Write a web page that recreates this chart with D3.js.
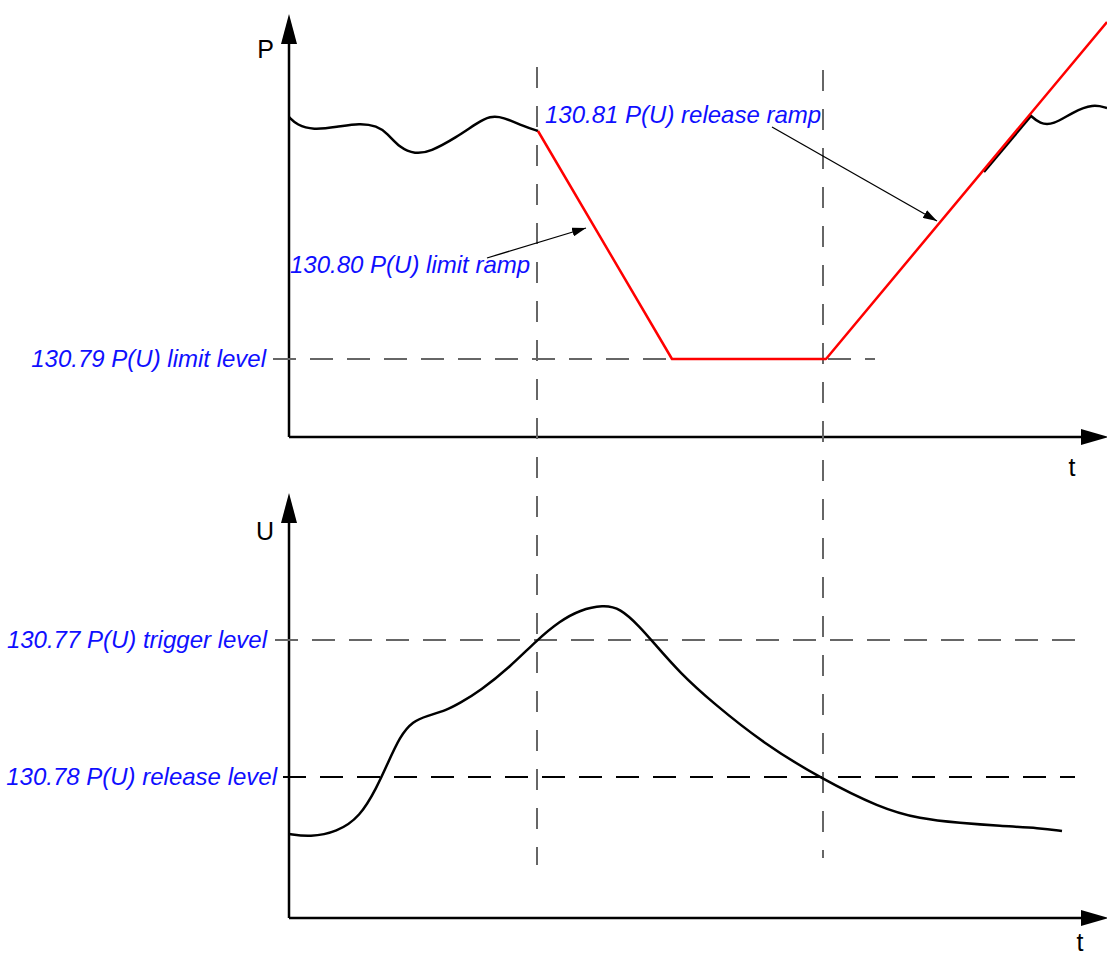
<!DOCTYPE html>
<html>
<head>
<meta charset="utf-8">
<script src="https://cdn.jsdelivr.net/npm/d3@7"></script>
<style>
  body { margin: 0; background: #fff; }
  svg { display: block; }
  .lbl { font-family: "Liberation Sans", Arial, sans-serif; font-style: italic; font-size: 24px; fill: #0f0fff; }
  .ax { font-family: "Liberation Sans", Arial, sans-serif; font-size: 25px; fill: #000; }
</style>
</head>
<body>
<svg id="chart" width="1107" height="955"></svg>
<script>
// P curve before limit (t, P)
const pBefore = [[0,320],[8,312],[24,307],[48,310],[71,314],[88,311],[98,304],[111,289],[126,283],[141,285],[168,300],[188,314],[201,321],[214,320],[234,311],[249,306]];
// P limited by ramp (red)
const pRamp = [[249,306],[383,78],[537,78],[818,415]];
// P following the release ramp, then free again
const pAfter = [[694,266],[741,322],[751,313],[764,312],[784,325],[804,333],[818,329]];
// U curve (t, U)
const uCurve = [[0,84],[21,81],[48,86],[71,101],[88,131],[98,153],[111,182],[124,197],[138,202],[158,208],[171,215],[191,227],[221,251],[248,278],[271,297],[291,308],[314,313],[331,310],[351,291],[364,276],[391,245],[424,215],[474,175],[531,140],[591,110],[631,99],[671,95],[711,92],[751,90],[773,87]];

// levels and times
const limitLevel = 78;
const triggerLevel = 278;
const releaseLevel = 141;
const tTrigger = 248;
const tRelease = 534;

const labels = {
  limitLevel: '130.79 P(U) limit level',
  trigger: '130.77 P(U) trigger level',
  release: '130.78 P(U) release level',
  limitRamp: '130.80 P(U) limit ramp',
  releaseRamp: '130.81 P(U) release ramp'
};

const svg = d3.select('#chart');

const x = d3.scaleLinear().domain([0, 818]).range([289, 1107]);
const yP = d3.scaleLinear().domain([0, 423]).range([437, 14]);
const yU = d3.scaleLinear().domain([0, 425]).range([918, 493]);

// arrow marker for annotations
svg.append('defs').append('marker')
  .attr('id', 'arr')
  .attr('viewBox', '0 0 14 9')
  .attr('refX', 14).attr('refY', 4.5)
  .attr('markerWidth', 14).attr('markerHeight', 9)
  .attr('markerUnits', 'userSpaceOnUse')
  .attr('orient', 'auto')
  .append('path').attr('d', 'M0,0 L14,4.5 L0,9 Z').attr('fill', '#000');

// axes with arrowheads
function drawAxes(y, top) {
  svg.append('line')
    .attr('x1', x(0)).attr('x2', x(0))
    .attr('y1', y(0)).attr('y2', y(top - 25))
    .attr('stroke', '#000').attr('stroke-width', 2.5);
  svg.append('line')
    .attr('x1', x(0)).attr('x2', x(795))
    .attr('y1', y(0)).attr('y2', y(0))
    .attr('stroke', '#000').attr('stroke-width', 2.5);
  svg.append('path')
    .attr('d', `M${x(0) - 8},${y(top - 30)} L${x(0)},${y(top)} L${x(0) + 8},${y(top - 30)} Z`)
    .attr('fill', '#000');
  svg.append('path')
    .attr('d', `M${x(792)},${y(0) - 8} L${x(820)},${y(0)} L${x(792)},${y(0) + 8} Z`)
    .attr('fill', '#000');
}
drawAxes(yP, 423);
drawAxes(yU, 425);

svg.append('text').attr('class', 'ax').attr('x', x(-15)).attr('y', yP(379)).attr('text-anchor', 'end').text('P');
svg.append('text').attr('class', 'ax').attr('x', x(783)).attr('y', yP(-39)).attr('text-anchor', 'middle').text('t');
svg.append('text').attr('class', 'ax').attr('x', x(-15)).attr('y', yU(378)).attr('text-anchor', 'end').text('U');
svg.append('text').attr('class', 'ax').attr('x', x(791)).attr('y', yU(-33)).attr('text-anchor', 'middle').text('t');

// dashed guide lines
function hDash(y, v, t0, t1, color) {
  svg.append('line')
    .attr('x1', x(t0)).attr('x2', x(t1))
    .attr('y1', y(v)).attr('y2', y(v))
    .attr('stroke', color).attr('stroke-width', 2)
    .attr('stroke-dasharray', '23,14');
}
hDash(yP, limitLevel, -16, 586, '#666');
hDash(yU, triggerLevel, -14, 791, '#666');
hDash(yU, releaseLevel, -6, 786, '#000');

svg.append('line')
  .attr('x1', x(tTrigger)).attr('x2', x(tTrigger))
  .attr('y1', yP(370)).attr('y2', yU(53))
  .attr('stroke', '#666').attr('stroke-width', 2)
  .attr('stroke-dasharray', '21,18');
svg.append('line')
  .attr('x1', x(tRelease)).attr('x2', x(tRelease))
  .attr('y1', yP(367)).attr('y2', yU(60))
  .attr('stroke', '#666').attr('stroke-width', 2)
  .attr('stroke-dasharray', '21,18');

// curves
const lineP = d3.line().x(d => x(d[0])).y(d => yP(d[1])).curve(d3.curveBasis);
const lineU = d3.line().x(d => x(d[0])).y(d => yU(d[1])).curve(d3.curveBasis);

svg.append('path').attr('d', lineP(pBefore)).attr('fill', 'none').attr('stroke', '#000').attr('stroke-width', 2.5);
svg.append('path').attr('d', d3.line().x(d => x(d[0]) + 1).y(d => yP(d[1]) + 1)(pAfter.slice(0, 2)))
  .attr('fill', 'none').attr('stroke', '#000').attr('stroke-width', 2.5);
svg.append('path').attr('d', lineP(pAfter.slice(1))).attr('fill', 'none').attr('stroke', '#000').attr('stroke-width', 2.5);
svg.append('path').attr('d', d3.line().x(d => x(d[0])).y(d => yP(d[1]))(pRamp))
  .attr('fill', 'none').attr('stroke', '#f00').attr('stroke-width', 2.5).attr('stroke-linejoin', 'round');
svg.append('path').attr('d', lineU(uCurve)).attr('fill', 'none').attr('stroke', '#000').attr('stroke-width', 2.5);

// annotation arrows
svg.append('line')
  .attr('x1', x(198)).attr('y1', yP(179)).attr('x2', x(297)).attr('y2', yP(209))
  .attr('stroke', '#000').attr('stroke-width', 1.3).attr('marker-end', 'url(#arr)');
svg.append('line')
  .attr('x1', x(483)).attr('y1', yP(310)).attr('x2', x(648)).attr('y2', yP(216))
  .attr('stroke', '#000').attr('stroke-width', 1.3).attr('marker-end', 'url(#arr)');

// texts
svg.append('text').attr('class', 'lbl').attr('x', x(256)).attr('y', yP(314)).text(labels.releaseRamp);
svg.append('text').attr('class', 'lbl').attr('x', x(1)).attr('y', yP(164)).text(labels.limitRamp);
svg.append('text').attr('class', 'lbl').attr('x', x(-23)).attr('y', yP(limitLevel) + 8).attr('text-anchor', 'end').text(labels.limitLevel);
svg.append('text').attr('class', 'lbl').attr('x', x(-22)).attr('y', yU(triggerLevel) + 8).attr('text-anchor', 'end').text(labels.trigger);
svg.append('text').attr('class', 'lbl').attr('x', x(-12)).attr('y', yU(releaseLevel) + 8).attr('text-anchor', 'end').text(labels.release);
</script>
</body>
</html>
